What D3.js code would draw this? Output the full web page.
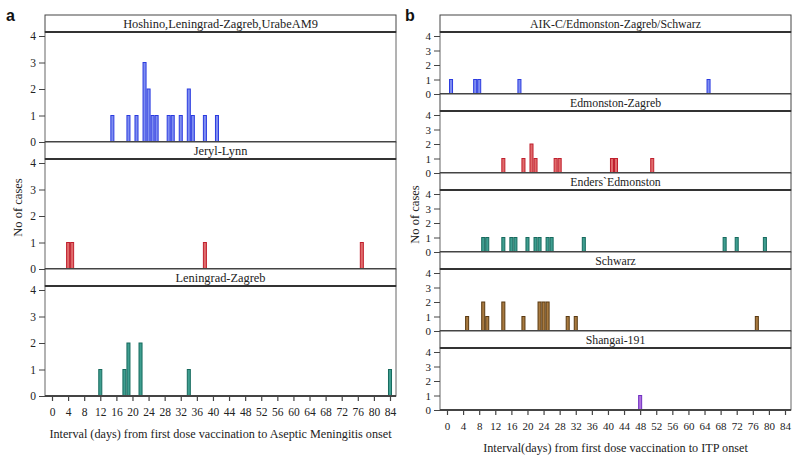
<!DOCTYPE html>
<html>
<head>
<meta charset="utf-8">
<script src="https://cdn.jsdelivr.net/npm/d3@7"></script>
<style>
  body { margin: 0; background: #fff; }
  svg { display: block; }
</style>
</head>
<body>
<svg id="chart" width="800" height="463"></svg>
<script>
// ---------- DATA ----------
const xTicks = d3.range(0, 85, 4);
const yTicks = [0, 1, 2, 3, 4];

// Panel a: Aseptic meningitis
const hoshinoDays   = [15, 19, 21, 23, 24, 25, 26, 29, 30, 32, 34, 35, 38, 41];
const hoshinoCases  = [ 1,  1,  1,  3,  2,  1,  1,  1,  1,  1,  2,  1,  1,  1];
const jerylDays     = [4, 5, 38, 77];
const jerylCases    = [1, 1, 1, 1];
const leningradDays = [12, 18, 19, 22, 34, 84];
const leningradCases= [ 1,  1,  2,  2,  1,  1];

// Panel b: ITP
const aikDays       = [1, 7, 8, 18, 65];
const aikCases      = [1, 1, 1, 1, 1];
const edZagDays     = [14, 19, 21, 22, 27, 28, 41, 42, 51];
const edZagCases    = [ 1,  1,  2,  1,  1,  1,  1,  1,  1];
const endersDays    = [9, 10, 14, 16, 17, 20, 22, 23, 25, 26, 34, 69, 72, 79];
const endersCases   = [1,  1,  1,  1,  1,  1,  1,  1,  1,  1,  1,  1,  1,  1];
const schwarzDays   = [5, 9, 10, 14, 19, 23, 24, 25, 30, 32, 77];
const schwarzCases  = [1, 2,  1,  2,  1,  2,  2,  2,  1,  1,  1];
const shangaiDays   = [48];
const shangaiCases  = [1];

const panelA = {
  label: "a",
  xTitle: "Interval (days) from first dose vaccination to Aseptic Meningitis onset",
  facets: [
    { name: "Hoshino,Leningrad-Zagreb,UrabeAM9", days: hoshinoDays, cases: hoshinoCases, fill: "#7f8ef0", stroke: "#2b3be0" },
    { name: "Jeryl-Lynn", days: jerylDays, cases: jerylCases, fill: "#e06c6c", stroke: "#c0202e" },
    { name: "Leningrad-Zagreb", days: leningradDays, cases: leningradCases, fill: "#3f9e90", stroke: "#176a5e" }
  ]
};
const panelB = {
  label: "b",
  xTitle: "Interval(days) from first dose vaccination to ITP onset",
  facets: [
    { name: "AIK-C/Edmonston-Zagreb/Schwarz", days: aikDays, cases: aikCases, fill: "#7f8ef0", stroke: "#2b3be0" },
    { name: "Edmonston-Zagreb", days: edZagDays, cases: edZagCases, fill: "#e06c6c", stroke: "#c0202e" },
    { name: "Enders`Edmonston", days: endersDays, cases: endersCases, fill: "#3f9e90", stroke: "#176a5e" },
    { name: "Schwarz", days: schwarzDays, cases: schwarzCases, fill: "#a87a40", stroke: "#5a3a12" },
    { name: "Shangai-191", days: shangaiDays, cases: shangaiCases, fill: "#b070e0", stroke: "#7030c0" }
  ]
};

// ---------- DRAW ----------
const SERIF = "Liberation Serif";
const svg = d3.select("#chart");

function drawPanel(panel, L) {
  const g = svg.append("g").attr("font-family", SERIF);
  const x = d3.scaleLinear().domain([0, 84]).range([L.left + 7, L.right - 6]);
  const bw = x(1) - x(0);
  const n = panel.facets.length;
  const fh = L.header + L.plot;

  panel.facets.forEach((f, i) => {
    const top = L.top + i * fh;
    const pTop = top + L.header;
    const pBot = pTop + L.plot;
    const y = d3.scaleLinear().domain([0, 4]).range([pBot, pTop + L.pad]);

    g.append("rect").attr("x", L.left).attr("y", pTop).attr("width", L.right - L.left).attr("height", L.plot)
      .attr("fill", "none").attr("stroke", "#666").attr("stroke-width", 1);

    const data = f.days.map((d, k) => ({ day: d, n: f.cases[k] }));
    g.selectAll(null).data(data).enter().append("rect")
      .attr("x", d => x(d.day) - bw / 2 + 0.5)
      .attr("y", d => y(d.n))
      .attr("width", bw - 1)
      .attr("height", d => y(0) - y(d.n))
      .attr("fill", f.fill)
      .attr("stroke", f.stroke)
      .attr("stroke-width", 1);

    g.append("rect").attr("x", L.left).attr("y", top).attr("width", L.right - L.left).attr("height", L.header)
      .attr("fill", "#fff").attr("stroke", "#444").attr("stroke-width", 1);
    g.append("line").attr("x1", L.left).attr("x2", L.right).attr("y1", pTop).attr("y2", pTop)
      .attr("stroke", "#333").attr("stroke-width", 2);
    g.append("text").attr("x", (L.left + L.right) / 2).attr("y", top + L.header / 2 + 4.3)
      .attr("text-anchor", "middle").attr("font-size", L.hfs).attr("font-family", SERIF)
      .attr("fill", "#222").text(f.name);

    g.append("line").attr("x1", L.left).attr("x2", L.right).attr("y1", pBot).attr("y2", pBot)
      .attr("stroke", "#444").attr("stroke-width", 2);

    const ya = g.append("g").attr("transform", `translate(${L.left},0)`)
      .call(d3.axisLeft(y).tickValues(yTicks).tickSize(6).tickPadding(3).tickFormat(d3.format("d")));
    ya.attr("font-family", SERIF);
    ya.select(".domain").remove();
    ya.selectAll("line").attr("stroke", "#444");
    ya.selectAll("text").attr("font-size", L.tfs).attr("font-family", SERIF).attr("fill", "#222");

    if (i === n - 1) {
      const xa = g.append("g").attr("transform", `translate(0,${pBot})`)
        .call(d3.axisBottom(x).tickValues(xTicks).tickSize(5).tickPadding(7).tickFormat(d3.format("d")));
      xa.attr("font-family", SERIF);
      xa.select(".domain").remove();
      xa.selectAll("line").attr("stroke", "#444").attr("stroke-width", 1.2);
      xa.selectAll("text").attr("font-size", L.tfs).attr("font-family", SERIF).attr("fill", "#222");
      g.append("text").attr("x", (L.left + L.right) / 2).attr("y", pBot + L.titleOff)
        .attr("text-anchor", "middle").attr("font-size", 12.2).attr("font-family", SERIF)
        .attr("fill", "#222").text(panel.xTitle);
    }
  });

  g.append("text")
    .attr("transform", `translate(${L.yTitleX},${L.yTitleY}) rotate(-90)`)
    .attr("text-anchor", "middle").attr("font-size", 12.5).attr("font-family", SERIF)
    .attr("fill", "#222").text("No of cases");

  g.append("text").attr("x", L.labelX).attr("y", 21)
    .attr("font-family", "Liberation Sans").attr("font-weight", "bold")
    .attr("font-size", 16).attr("fill", "#111").text(panel.label);
}

drawPanel(panelA, { left: 45, right: 396, top: 15, header: 17, plot: 110, pad: 4, hfs: 12.4, tfs: 11.5,
  titleOff: 42, yTitleX: 22, yTitleY: 207.5, labelX: 6 });
drawPanel(panelB, { left: 440, right: 791, top: 15, header: 17, plot: 62, pad: 4, hfs: 11.8, tfs: 11,
  titleOff: 42, yTitleX: 419, yTitleY: 214.5, labelX: 405 });
</script>
</body>
</html>
